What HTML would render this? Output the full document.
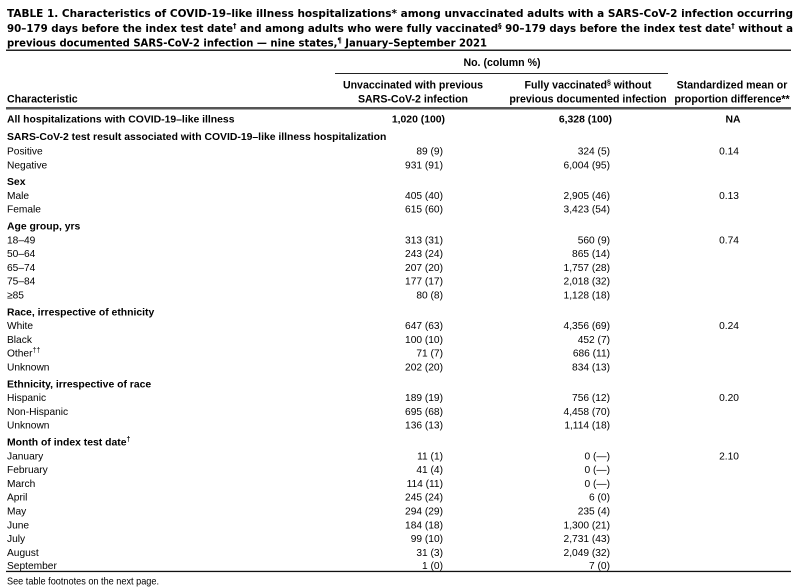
<!DOCTYPE html>
<html><head><meta charset="utf-8"><style>
html,body{margin:0;padding:0;background:#fff;}
svg{display:block;}
text{font-family:"Liberation Sans",sans-serif;font-size:10.2px;fill:#000;}
.b{font-weight:bold;font-size:10.4px;}
.h{font-weight:bold;font-size:10.6px;}
.t{font-family:"DejaVu Sans","Liberation Sans",sans-serif;font-weight:bold;font-size:10.4px;}
.e{text-anchor:end;}
.m{text-anchor:middle;}
</style></head><body>
<svg width="800" height="588" viewBox="0 0 800 588" xmlns="http://www.w3.org/2000/svg">
<rect width="800" height="588" fill="#fff"/>
<!-- Title -->
<text class="t" x="7" y="17" textLength="786" lengthAdjust="spacingAndGlyphs">TABLE 1. Characteristics of COVID-19–like illness hospitalizations* among unvaccinated adults with a SARS-CoV-2 infection occurring</text>
<text class="t" x="7" y="32" textLength="786" lengthAdjust="spacingAndGlyphs">90–179 days before the index test date<tspan dy="-4" font-size="7">†</tspan><tspan dy="4"> and among adults who were fully vaccinated</tspan><tspan dy="-4" font-size="7">§</tspan><tspan dy="4"> 90–179 days before the index test date</tspan><tspan dy="-4" font-size="7">†</tspan><tspan dy="4"> without a</tspan></text>
<text class="t" x="7" y="46.5" textLength="480" lengthAdjust="spacingAndGlyphs">previous documented SARS-CoV-2 infection — nine states,<tspan dy="-4" font-size="7">¶</tspan><tspan dy="4"> January–September 2021</tspan></text>
<rect x="6" y="49.5" width="785" height="1.5" fill="#222"/>

<!-- Header -->
<text class="h m" x="502" y="66">No. (column %)</text>
<rect x="335" y="73" width="333" height="1" fill="#222"/>
<text class="h m" x="413" y="88.5">Unvaccinated with previous</text>
<text class="h m" x="413" y="102.5">SARS-CoV-2 infection</text>
<text class="h m" x="588" y="88.5">Fully vaccinated<tspan dy="-4" font-size="7">§</tspan><tspan dy="4"> without</tspan></text>
<text class="h m" x="588" y="102.5">previous documented infection</text>
<text class="h m" x="732" y="88.5">Standardized mean or</text>
<text class="h m" x="732" y="102.5">proportion difference**</text>
<text class="h" x="7" y="102.5">Characteristic</text>
<rect x="6" y="107" width="785" height="2.5" fill="#555"/>

<!-- All hosp -->
<text class="b" x="7" y="122.5">All hospitalizations with COVID-19–like illness</text>
<text class="b e" x="445" y="122.5">1,020 (100)</text>
<text class="b e" x="612" y="122.5">6,328 (100)</text>
<text class="b m" x="733" y="122.5">NA</text>

<text class="b" x="7" y="140">SARS-CoV-2 test result associated with COVID-19–like illness hospitalization</text>
<text x="7" y="154.5">Positive</text><text class="e" x="443" y="154.5">89 (9)</text><text class="e" x="610" y="154.5">324 (5)</text><text class="m" x="729" y="154.5">0.14</text>
<text x="7" y="168.3">Negative</text><text class="e" x="443" y="168.3">931 (91)</text><text class="e" x="610" y="168.3">6,004 (95)</text>

<text class="b" x="7" y="185.1">Sex</text>
<text x="7" y="198.9">Male</text><text class="e" x="443" y="198.9">405 (40)</text><text class="e" x="610" y="198.9">2,905 (46)</text><text class="m" x="729" y="198.9">0.13</text>
<text x="7" y="212.7">Female</text><text class="e" x="443" y="212.7">615 (60)</text><text class="e" x="610" y="212.7">3,423 (54)</text>

<text class="b" x="7" y="229.5">Age group, yrs</text>
<text x="7" y="243.3">18–49</text><text class="e" x="443" y="243.3">313 (31)</text><text class="e" x="610" y="243.3">560 (9)</text><text class="m" x="729" y="243.3">0.74</text>
<text x="7" y="257.1">50–64</text><text class="e" x="443" y="257.1">243 (24)</text><text class="e" x="610" y="257.1">865 (14)</text>
<text x="7" y="270.9">65–74</text><text class="e" x="443" y="270.9">207 (20)</text><text class="e" x="610" y="270.9">1,757 (28)</text>
<text x="7" y="284.7">75–84</text><text class="e" x="443" y="284.7">177 (17)</text><text class="e" x="610" y="284.7">2,018 (32)</text>
<text x="7" y="298.5">≥85</text><text class="e" x="443" y="298.5">80 (8)</text><text class="e" x="610" y="298.5">1,128 (18)</text>

<text class="b" x="7" y="315.3">Race, irrespective of ethnicity</text>
<text x="7" y="329.1">White</text><text class="e" x="443" y="329.1">647 (63)</text><text class="e" x="610" y="329.1">4,356 (69)</text><text class="m" x="729" y="329.1">0.24</text>
<text x="7" y="342.9">Black</text><text class="e" x="443" y="342.9">100 (10)</text><text class="e" x="610" y="342.9">452 (7)</text>
<text x="7" y="356.7">Other<tspan dy="-4" font-size="7">††</tspan></text><text class="e" x="443" y="356.7">71 (7)</text><text class="e" x="610" y="356.7">686 (11)</text>
<text x="7" y="370.5">Unknown</text><text class="e" x="443" y="370.5">202 (20)</text><text class="e" x="610" y="370.5">834 (13)</text>

<text class="b" x="7" y="387.3">Ethnicity, irrespective of race</text>
<text x="7" y="401.1">Hispanic</text><text class="e" x="443" y="401.1">189 (19)</text><text class="e" x="610" y="401.1">756 (12)</text><text class="m" x="729" y="401.1">0.20</text>
<text x="7" y="414.9">Non-Hispanic</text><text class="e" x="443" y="414.9">695 (68)</text><text class="e" x="610" y="414.9">4,458 (70)</text>
<text x="7" y="428.7">Unknown</text><text class="e" x="443" y="428.7">136 (13)</text><text class="e" x="610" y="428.7">1,114 (18)</text>

<text class="b" x="7" y="445.5">Month of index test date<tspan dy="-4" font-size="7">†</tspan></text>
<text x="7" y="459.3">January</text><text class="e" x="443" y="459.3">11 (1)</text><text class="e" x="610" y="459.3">0 (—)</text><text class="m" x="729" y="459.3">2.10</text>
<text x="7" y="473.1">February</text><text class="e" x="443" y="473.1">41 (4)</text><text class="e" x="610" y="473.1">0 (—)</text>
<text x="7" y="486.9">March</text><text class="e" x="443" y="486.9">114 (11)</text><text class="e" x="610" y="486.9">0 (—)</text>
<text x="7" y="500.7">April</text><text class="e" x="443" y="500.7">245 (24)</text><text class="e" x="610" y="500.7">6 (0)</text>
<text x="7" y="514.5">May</text><text class="e" x="443" y="514.5">294 (29)</text><text class="e" x="610" y="514.5">235 (4)</text>
<text x="7" y="528.3">June</text><text class="e" x="443" y="528.3">184 (18)</text><text class="e" x="610" y="528.3">1,300 (21)</text>
<text x="7" y="542.1">July</text><text class="e" x="443" y="542.1">99 (10)</text><text class="e" x="610" y="542.1">2,731 (43)</text>
<text x="7" y="555.9">August</text><text class="e" x="443" y="555.9">31 (3)</text><text class="e" x="610" y="555.9">2,049 (32)</text>
<text x="7" y="569.2">September</text><text class="e" x="443" y="569.2">1 (0)</text><text class="e" x="610" y="569.2">7 (0)</text>
<rect x="6" y="570.8" width="785" height="1.3" fill="#111"/>
<text x="7" y="584.5" textLength="152" lengthAdjust="spacingAndGlyphs">See table footnotes on the next page.</text>
</svg>
</body></html>
